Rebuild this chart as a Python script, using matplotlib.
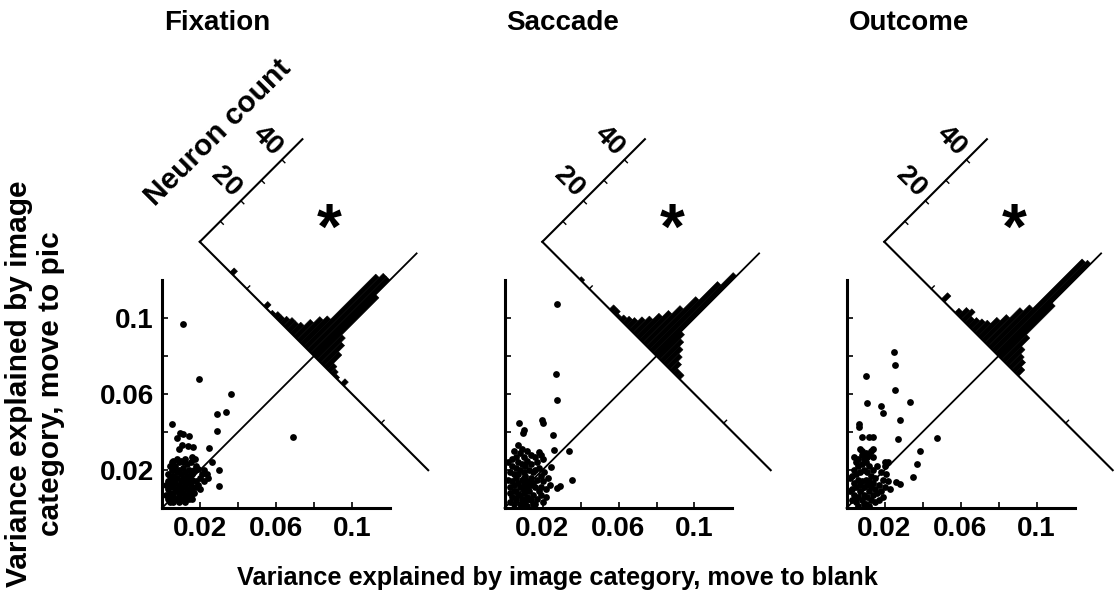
import numpy as np
import matplotlib
matplotlib.use('Agg')
import matplotlib.pyplot as plt
from matplotlib.transforms import Affine2D

plt.rcParams['font.family'] = ['Liberation Sans', 'DejaVu Sans']
plt.rcParams['font.weight'] = 'bold'

# ---------------- data ----------------
titles = ['Fixation', 'Saccade', 'Outcome']
xlabel_text = 'Variance explained by image category, move to blank'
ylabel_text = 'Variance explained by image\ncategory, move to pic'
count_label_text = 'Neuron count'
axis_ticks = [0.02, 0.04, 0.06, 0.08, 0.1]
axis_ticklabels = ['0.02', '', '0.06', '', '0.1']
count_ticks = [10, 20, 30, 40]
count_ticklabels = ['', '20', '', '40']
diff_ticks = [-0.05, 0.05]
bin_width = 0.0025

# scatter: variance explained, move to blank (x) vs move to pic (y)
fix_x = [0.0109, 0.0195, 0.0365, 0.0288, 0.0339, 0.0288, 0.0688, 0.0051, 0.0095, 0.0111,
         0.0144, 0.0077, 0.0103, 0.0139, 0.0165, 0.0091, 0.0247, 0.0156, 0.0174, 0.0261,
         0.0302, 0.0300, 0.0191, 0.0235,
         0.003, 0.004, 0.005, 0.006, 0.007, 0.008, 0.009, 0.010, 0.011, 0.012, 0.013, 0.004,
         0.005, 0.006, 0.007, 0.008, 0.009, 0.010, 0.011, 0.012, 0.013, 0.014, 0.015, 0.003,
         0.005, 0.006, 0.007, 0.008, 0.009, 0.010, 0.011, 0.012, 0.013, 0.014, 0.016, 0.017,
         0.018, 0.006, 0.008, 0.010, 0.012, 0.004, 0.006, 0.009, 0.012, 0.014, 0.015, 0.016,
         0.017, 0.019, 0.020, 0.021, 0.022, 0.018, 0.016, 0.003, 0.003, 0.004, 0.005, 0.007,
         0.009, 0.011, 0.013, 0.007, 0.009, 0.011, 0.005, 0.014, 0.015, 0.018, 0.002, 0.002,
         0.004, 0.006, 0.008, 0.010, 0.012, 0.014, 0.016, 0.013, 0.011, 0.020, 0.024, 0.022]
fix_y = [0.0968, 0.0679, 0.0600, 0.0493, 0.0504, 0.0407, 0.0375, 0.0440, 0.0396, 0.0387,
         0.0379, 0.0367, 0.0332, 0.0326, 0.0323, 0.0309, 0.0314, 0.0267, 0.0256, 0.0242,
         0.0200, 0.0116, 0.0207, 0.0181,
         0.005, 0.008, 0.004, 0.006, 0.009, 0.005, 0.007, 0.004, 0.008, 0.006, 0.010, 0.012,
         0.015, 0.011, 0.013, 0.016, 0.012, 0.014, 0.011, 0.015, 0.013, 0.009, 0.012, 0.018,
         0.020, 0.017, 0.022, 0.019, 0.024, 0.018, 0.021, 0.019, 0.023, 0.017, 0.015, 0.020,
         0.014, 0.025, 0.026, 0.025, 0.026, 0.003, 0.003, 0.003, 0.003, 0.005, 0.007, 0.010,
         0.008, 0.012, 0.016, 0.018, 0.014, 0.011, 0.005, 0.010, 0.014, 0.022, 0.007, 0.005,
         0.009, 0.005, 0.007, 0.016, 0.020, 0.016, 0.024, 0.020, 0.024, 0.022, 0.007, 0.012,
         0.017, 0.020, 0.010, 0.009, 0.012, 0.014, 0.018, 0.017, 0.024, 0.010, 0.016, 0.020]

sac_x = [0.0275, 0.0271, 0.0278, 0.0078, 0.0104, 0.0096, 0.0199, 0.0205, 0.0254, 0.0073,
         0.0259, 0.0341, 0.0183, 0.0194, 0.0244, 0.0357, 0.0278, 0.0294,
         0.003, 0.004, 0.005, 0.006, 0.007, 0.008, 0.009, 0.010, 0.011, 0.012, 0.013, 0.014,
         0.015, 0.016, 0.003, 0.004, 0.005, 0.006, 0.007, 0.008, 0.009, 0.010, 0.011, 0.012,
         0.013, 0.014, 0.015, 0.016, 0.017, 0.018, 0.003, 0.004, 0.005, 0.006, 0.007, 0.008,
         0.009, 0.010, 0.011, 0.012, 0.013, 0.014, 0.006, 0.008, 0.010, 0.012, 0.014, 0.016,
         0.018, 0.019, 0.020, 0.021, 0.022, 0.023, 0.017, 0.019, 0.020, 0.004, 0.005, 0.009,
         0.003, 0.005, 0.007, 0.011, 0.013, 0.015, 0.017, 0.020, 0.019, 0.022, 0.024, 0.002,
         0.002, 0.006, 0.008, 0.010, 0.012, 0.014, 0.016, 0.009, 0.012, 0.015]
sac_y = [0.1076, 0.0707, 0.0567, 0.0449, 0.0409, 0.0393, 0.0462, 0.0450, 0.0382, 0.0334,
         0.0307, 0.0302, 0.0294, 0.0280, 0.0218, 0.0146, 0.0103, 0.0115,
         0.003, 0.006, 0.009, 0.004, 0.007, 0.002, 0.005, 0.008, 0.003, 0.006, 0.009, 0.004,
         0.007, 0.002, 0.011, 0.014, 0.012, 0.016, 0.013, 0.011, 0.015, 0.012, 0.017, 0.014,
         0.012, 0.016, 0.013, 0.011, 0.015, 0.009, 0.019, 0.022, 0.018, 0.021, 0.024, 0.020,
         0.023, 0.019, 0.022, 0.025, 0.020, 0.023, 0.027, 0.029, 0.027, 0.030, 0.028, 0.027,
         0.021, 0.017, 0.014, 0.019, 0.010, 0.016, 0.005, 0.007, 0.003, 0.026, 0.030, 0.031,
         0.008, 0.002, 0.018, 0.009, 0.005, 0.019, 0.024, 0.026, 0.011, 0.006, 0.012, 0.015,
         0.024, 0.009, 0.007, 0.016, 0.010, 0.012, 0.020, 0.001, 0.001, 0.002]

out_x = [0.0252, 0.0255, 0.0101, 0.0255, 0.0110, 0.0334, 0.0182, 0.0191, 0.0282, 0.0066,
         0.0067, 0.0080, 0.0118, 0.0141, 0.0270, 0.0478, 0.0387, 0.0373, 0.0352, 0.0282,
         0.0261, 0.0220, 0.0205,
         0.003, 0.004, 0.005, 0.006, 0.007, 0.008, 0.009, 0.010, 0.011, 0.012, 0.013, 0.014,
         0.003, 0.004, 0.005, 0.006, 0.007, 0.008, 0.009, 0.010, 0.011, 0.012, 0.013, 0.014,
         0.015, 0.016, 0.003, 0.004, 0.005, 0.006, 0.007, 0.008, 0.009, 0.010, 0.011, 0.012,
         0.013, 0.014, 0.015, 0.006, 0.008, 0.009, 0.010, 0.012, 0.013, 0.014, 0.008, 0.007,
         0.014, 0.017, 0.018, 0.019, 0.020, 0.021, 0.017, 0.019, 0.022, 0.023, 0.005, 0.004,
         0.011, 0.016, 0.002, 0.002, 0.006, 0.009, 0.012, 0.015, 0.018, 0.020]
out_y = [0.0821, 0.0751, 0.0693, 0.0619, 0.0553, 0.0556, 0.0537, 0.0500, 0.0462, 0.0444,
         0.0426, 0.0374, 0.0374, 0.0374, 0.0363, 0.0370, 0.0298, 0.0234, 0.0163, 0.0128,
         0.0137, 0.0242, 0.0242,
         0.004, 0.007, 0.003, 0.006, 0.009, 0.004, 0.007, 0.002, 0.006, 0.009, 0.004, 0.007,
         0.010, 0.013, 0.011, 0.015, 0.012, 0.014, 0.011, 0.015, 0.012, 0.014, 0.011, 0.013,
         0.010, 0.008, 0.017, 0.020, 0.018, 0.022, 0.019, 0.023, 0.020, 0.024, 0.019, 0.022,
         0.017, 0.020, 0.016, 0.026, 0.028, 0.026, 0.029, 0.028, 0.030, 0.027, 0.030, 0.031,
         0.031, 0.012, 0.009, 0.015, 0.011, 0.018, 0.004, 0.006, 0.014, 0.010, 0.024, 0.027,
         0.027, 0.022, 0.009, 0.016, 0.001, 0.002, 0.001, 0.003, 0.019, 0.022]

# histograms of the difference (blank - pic, along the anti-diagonal): bin index, neuron count
fix_bins = [-25, -15, -13, -12, -11, -10, -9, -8, -7, -6, -5, -4, -3, -2, -1, 0, 1, 2, 3, 4, 5, 6, 8]
fix_counts = [2, 2, 1, 2, 2, 3, 4, 4, 5, 8, 11, 13, 35, 37, 37, 30, 12, 10, 7, 3, 2, 1, 2]
sac_bins = [-23, -14, -13, -12, -11, -10, -9, -8, -7, -6, -5, -4, -3, -2, -1, 0, 1, 2, 3, 4, 5, 6]
sac_counts = [1, 2, 2, 1, 2, 3, 4, 6, 8, 11, 14, 18, 24, 33, 39, 12, 10, 8, 6, 4, 2, 2]
out_bins = [-17, -13, -12, -11, -10, -9, -8, -7, -6, -5, -4, -3, -2, -1, 0, 1, 2, 3, 4, 5]
out_counts = [3, 2, 4, 5, 3, 4, 5, 6, 9, 12, 17, 20, 44, 45, 26, 12, 8, 6, 5, 3]

panels = [(fix_x, fix_y, fix_bins, fix_counts),
          (sac_x, sac_y, sac_bins, sac_counts),
          (out_x, out_y, out_bins, out_counts)]

# ---------------- layout ----------------
W, H = 1118, 601
fig = plt.figure(figsize=(W / 100, H / 100), dpi=100)
lefts_px = [162, 504.5, 846.5]
bottom_px = 508
size_px = 228

K = 0.00108      # data units per neuron count along the diagonal
C0 = 0.08        # anti-diagonal crosses identity line at (C0, C0)
U_MIN, U_MAX = -0.085, 0.085
C_MAX = 50
s2 = np.sqrt(2.0)

for i, (xs, ys, bins, counts) in enumerate(panels):
    ax = fig.add_axes([lefts_px[i] / W, (H - bottom_px) / H, size_px / W, size_px / H])
    ax.set_autoscale_on(False)
    ax.set_xlim(0, 0.12)
    ax.set_ylim(0, 0.12)
    for sp in ['top', 'right']:
        ax.spines[sp].set_visible(False)
    for sp in ['left', 'bottom']:
        ax.spines[sp].set_linewidth(2.2)
    ax.set_xticks(axis_ticks)
    ax.set_xticklabels(axis_ticklabels)
    ax.set_yticks(axis_ticks)
    if i == 0:
        ax.set_yticklabels(axis_ticklabels)
    else:
        ax.set_yticklabels([])
    ax.tick_params(direction='in', length=4, width=1.2, labelsize=20, pad=6)
    for lab in ax.get_xticklabels() + ax.get_yticklabels():
        lab.set_fontweight('bold')

    hist_aff = Affine2D(np.array([[1 / s2, K, C0], [-1 / s2, K, C0], [0, 0, 1]]))
    hist_tr = hist_aff + ax.transData

    # identity line
    end = hist_aff.transform((0, C_MAX))
    ax.plot([0, end[0]], [0, end[1]], color='black', lw=1.3, clip_on=False, zorder=2)

    # scatter
    ax.scatter(xs, ys, s=24, c='black', linewidths=0, clip_on=False, zorder=3)

    # rotated histogram
    ax.bar(np.array(bins) * bin_width, counts, width=bin_width, align='edge',
           color='black', edgecolor='black', linewidth=0.4,
           transform=hist_tr, clip_on=False, zorder=3)
    ax.plot([U_MIN, U_MAX], [0, 0], color='black', lw=1.5, transform=hist_tr,
            clip_on=False, zorder=4)
    ax.plot([U_MIN, U_MIN], [0, C_MAX], color='black', lw=1.5, transform=hist_tr,
            clip_on=False, zorder=4)
    for t, lab in zip(count_ticks, count_ticklabels):
        ax.plot([U_MIN, U_MIN + 0.0022], [t, t], color='black', lw=1.0,
                transform=hist_tr, clip_on=False, zorder=4)
        if lab:
            ax.text(U_MIN - 0.0125, t + 1, lab, transform=hist_tr, rotation=-45,
                    rotation_mode='anchor', ha='center', va='center',
                    fontsize=20, fontweight='bold')
    for t in diff_ticks:
        ax.plot([t, t], [0, 1.4], color='black', lw=1.0, transform=hist_tr,
                clip_on=False, zorder=4)
    ax.text(-0.0405, 34, '*', transform=hist_tr, ha='center', va='center',
            fontsize=46, fontweight='bold')
    if i == 0:
        ax.text(U_MIN - 0.034, 31, count_label_text, transform=hist_tr, rotation=45,
                rotation_mode='anchor', ha='center', va='center',
                fontsize=21.5, fontweight='bold')

    fig.text(lefts_px[i] / W + 2 / W, 1 - 23 / H, titles[i], ha='left', va='center',
             fontsize=20, fontweight='bold')

fig.text(557 / W, 1 - 578 / H, xlabel_text, ha='center', va='center',
         fontsize=18.3, fontweight='bold')
fig.text(35 / W, 1 - 384 / H, ylabel_text, ha='center', va='center', rotation=90,
         fontsize=21.5, fontweight='bold', linespacing=1.15)

fig.savefig('out.png', dpi=100)
